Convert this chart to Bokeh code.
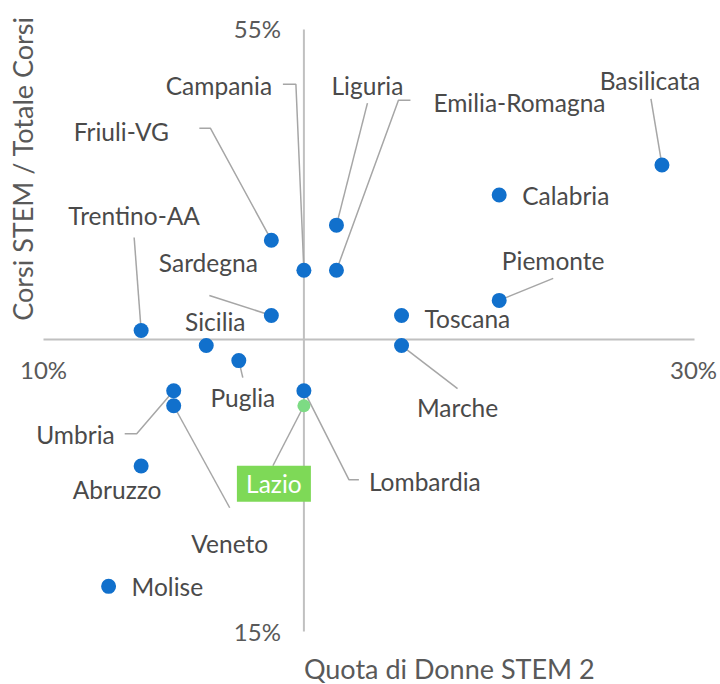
from bokeh.plotting import figure
from bokeh.models import Range1d, ColumnDataSource, Label
from bokeh.core.properties import value
from bokeh.embed import file_html
from bokeh.resources import INLINE

# ---- data ----
regions = ["Basilicata", "Calabria", "Piemonte", "Toscana", "Marche", "Lombardia",
           "Veneto", "Abruzzo", "Umbria", "Puglia", "Sicilia", "Sardegna",
           "Trentino-AA", "Friuli-VG", "Campania", "Liguria", "Emilia-Romagna", "Molise"]
quota_donne = [29, 24, 24, 21, 21, 18, 14, 13, 14, 16, 15, 17, 13, 17, 18, 19, 19, 12]
corsi_stem = [46, 44, 37, 36, 34, 31, 30, 26, 31, 33, 34, 36, 35, 41, 39, 42, 39, 18]
highlight_region = ["Lazio"]
highlight_x = [18]
highlight_y = [30]
x_cross = 18
y_cross = 34.4
x_ticks = ["10%", "30%"]
y_ticks = ["55%", "15%"]

X0, X1, Y0, Y1 = 10, 30, 15, 55

# ---- layout (pixels) ----
W, H = 718, 684
FL, FR, FT, FB = 43, 694, 29, 631   # pixel extent of the 10-30 / 15-55 box
sx = (X1 - X0) / (FR - FL)
sy = (Y1 - Y0) / (FB - FT)

FONT = "Lato"
TXT = "#4a4a4a"
LEAD = "#a6a6a6"
BLUE = "#1170cc"
GREEN_DOT = "#7ddb84"
GREEN_BOX = "#7ed957"
FS = "24.5px"

# label offsets in px (dx right, dy down), align, leader waypoints (px)
label_cfg = {
    "Basilicata": ((-12, -84), "center", [(-11, -66)]),
    "Calabria": ((23, 0), "left", None),
    "Piemonte": ((54, -40), "center", [(54, -22)]),
    "Toscana": ((23, 3), "left", None),
    "Marche": ((56, 62), "center", [(56, 43)]),
    "Lombardia": ((65, 91), "left", [(45, 89), (55, 89)]),
    "Veneto": ((56, 138), "center", [(56, 102)]),
    "Abruzzo": ((-24, 24), "center", None),
    "Umbria": ((-59, 44), "right", [(-37, 43), (-49, 43)]),
    "Puglia": ((4, 37), "center", [(4, 17)]),
    "Sicilia": ((9, -24), "center", None),
    "Sardegna": ((-63, -53), "center", [(-62, -20)]),
    "Trentino-AA": ((-7, -115), "center", [(-7, -93)]),
    "Friuli-VG": ((-150, -109), "center", [(-61, -112), (-72, -112)]),
    "Campania": ((-85, -185), "center", [(-8, -186), (-21, -186)]),
    "Liguria": ((31, -140), "center", [(31, -122)]),
    "Emilia-Romagna": ((183, -168), "center", [(62, -170), (74, -170)]),
    "Molise": ((23, 0), "left", None),
}

p = figure(width=W, height=H,
           x_range=Range1d(X0 - FL * sx, X1 + (W - FR) * sx),
           y_range=Range1d(Y0 - (H - FB) * sy, Y1 + FT * sy),
           x_axis_location=None, y_axis_location=None, toolbar_location=None,
           output_backend="svg", min_border=0)
p.grid.visible = False
p.outline_line_color = None
p.background_fill_color = "white"
p.border_fill_color = "white"

# cross axes
p.segment(x0=[X0, x_cross], y0=[y_cross, Y0], x1=[X1, x_cross], y1=[y_cross, Y1],
          line_color="#c0c0c0", line_width=2)

# leader lines
xs, ys = [], []
for r, x, y in zip(regions, quota_donne, corsi_stem):
    (dx, dy), al, pts = label_cfg[r]
    if pts:
        xs.append([x] + [x + px * sx for px, py in pts])
        ys.append([y] + [y - py * sy for px, py in pts])
lx, ly = highlight_x[0], highlight_y[0]
xs.append([lx, lx - 31 * sx]); ys.append([ly, ly - 60 * sy])
p.multi_line(xs=xs, ys=ys, line_color=LEAD, line_width=1.5)

# points
p.scatter(x=quota_donne, y=corsi_stem, size=15, fill_color=BLUE, line_color=None)
p.scatter(x=highlight_x, y=highlight_y, size=13, fill_color=GREEN_DOT, line_color=None)

# labels
for align in ("left", "center", "right"):
    sel = [i for i, r in enumerate(regions) if label_cfg[r][1] == align]
    src = ColumnDataSource(dict(
        x=[quota_donne[i] + label_cfg[regions[i]][0][0] * sx for i in sel],
        y=[corsi_stem[i] - label_cfg[regions[i]][0][1] * sy for i in sel],
        t=[regions[i] for i in sel]))
    p.text(x="x", y="y", text="t", source=src, text_font=value(FONT),
           text_font_size=FS, text_color=TXT, text_align=align,
           text_baseline="middle")

# Lazio box label
bx, by = lx - 30 * sx, ly - 78 * sy
p.rect(x=[bx], y=[by], width=74, height=36, width_units="screen", height_units="screen",
       fill_color=GREEN_BOX, line_color=None)
p.text(x=[bx], y=[by], text=highlight_region, text_font=value(FONT), text_font_size=FS,
       text_color="white", text_align="center", text_baseline="middle")

# tick labels
p.text(x=[X0, X1], y=[y_cross, y_cross], text=x_ticks, y_offset=30, x_offset=[0, -1],
       text_font=value(FONT), text_font_size="24px", text_color="#595959",
       text_align="center", text_baseline="middle")
p.text(x=[x_cross, x_cross], y=[Y1, Y0], text=y_ticks, x_offset=-23, y_offset=[-1, 0],
       text_font=value(FONT), text_font_size="24px", text_color="#595959",
       text_align="right", text_baseline="middle")

# axis titles
p.add_layout(Label(x=x_cross, y=Y0, y_offset=-37, text="Quota di Donne STEM 2",
                   text_font=FONT, text_font_size="27px", text_color="#595959",
                   text_align="left", text_baseline="middle"))
p.add_layout(Label(x=22, y=H - 168, x_units="screen", y_units="screen",
                   text="Corsi STEM / Totale Corsi", angle=90, angle_units="deg",
                   text_font=FONT, text_font_size="27px", text_color="#595959",
                   text_align="center", text_baseline="middle"))

open("out.html", "w").write(file_html(p, INLINE))
